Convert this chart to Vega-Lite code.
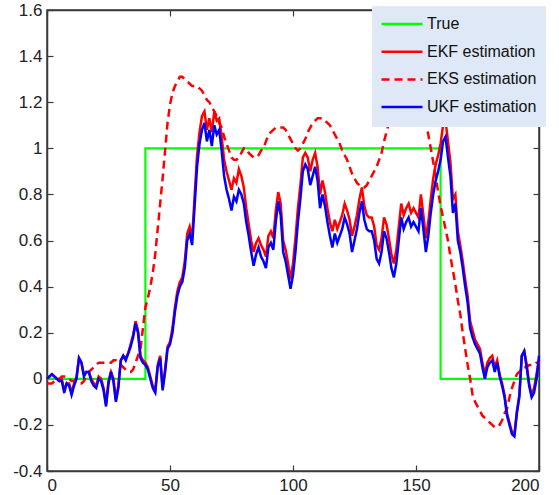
{
"$schema": "https://vega.github.io/schema/vega-lite/v6.json",
"width": 492, "height": 461,
"autosize": {"type": "none"},
"padding": {"left": 47, "top": 10, "right": 20, "bottom": 24},
"background": "white",
"config": {
 "view": {"stroke": "#3a3a3a", "strokeWidth": 1.5},
 "font": "Liberation Sans",
 "axis": {"grid": false, "domainColor": "#3a3a3a", "domainWidth": 1.5, "tickColor": "#3a3a3a", "tickWidth": 1.2, "tickSize": -6, "labelFont": "Liberation Sans", "labelFontSize": 17, "labelColor": "#222", "title": null},
 "legend": {"orient": "none", "legendX": 325, "legendY": -4, "fillColor": "#dee8f6", "strokeColor": "#e6ebf2", "padding": 8, "symbolType": "stroke", "symbolSize": 1681, "clipHeight": 20, "symbolStrokeWidth": 2.5, "labelFont": "Liberation Sans", "labelFontSize": 16, "labelColor": "#111", "labelOffset": 3, "rowPadding": 7.7}
},
"datasets": {
 "truth": [
  {"t": 0, "s": "True", "v": 0},
  {"t": 40, "s": "True", "v": 1},
  {"t": 160, "s": "True", "v": 0},
  {"t": 200, "s": "True", "v": 0}
 ],
 "est": [
{"t":0,"EKF":0.00,"EKS":-0.02,"UKF":0.00},
{"t":1,"EKF":0.01,"EKS":-0.02,"UKF":0.01},
{"t":2,"EKF":0.02,"EKS":-0.02,"UKF":0.02},
{"t":3,"EKF":0.01,"EKS":-0.01,"UKF":0.01},
{"t":4,"EKF":0.00,"EKS":0.00,"UKF":0.00},
{"t":5,"EKF":-0.01,"EKS":0.00,"UKF":-0.01},
{"t":6,"EKF":0.00,"EKS":0.01,"UKF":-0.01},
{"t":7,"EKF":-0.05,"EKS":0.01,"UKF":-0.06},
{"t":8,"EKF":-0.02,"EKS":0.01,"UKF":-0.02},
{"t":9,"EKF":-0.02,"EKS":0.00,"UKF":-0.03},
{"t":10,"EKF":-0.06,"EKS":-0.01,"UKF":-0.07},
{"t":11,"EKF":-0.02,"EKS":-0.01,"UKF":-0.03},
{"t":12,"EKF":0.01,"EKS":-0.02,"UKF":0.00},
{"t":13,"EKF":0.09,"EKS":-0.02,"UKF":0.09},
{"t":14,"EKF":0.07,"EKS":-0.02,"UKF":0.07},
{"t":15,"EKF":0.02,"EKS":-0.01,"UKF":0.01},
{"t":16,"EKF":0.03,"EKS":0.01,"UKF":0.03},
{"t":17,"EKF":0.03,"EKS":0.03,"UKF":0.03},
{"t":18,"EKF":0.00,"EKS":0.04,"UKF":-0.01},
{"t":19,"EKF":-0.02,"EKS":0.05,"UKF":-0.03},
{"t":20,"EKF":-0.03,"EKS":0.06,"UKF":-0.04},
{"t":21,"EKF":0.01,"EKS":0.07,"UKF":0.00},
{"t":22,"EKF":0.00,"EKS":0.07,"UKF":-0.01},
{"t":23,"EKF":-0.04,"EKS":0.07,"UKF":-0.05},
{"t":24,"EKF":-0.11,"EKS":0.07,"UKF":-0.12},
{"t":25,"EKF":-0.01,"EKS":0.07,"UKF":-0.02},
{"t":26,"EKF":0.03,"EKS":0.07,"UKF":0.03},
{"t":27,"EKF":0.00,"EKS":0.08,"UKF":-0.01},
{"t":28,"EKF":-0.09,"EKS":0.08,"UKF":-0.10},
{"t":29,"EKF":-0.03,"EKS":0.07,"UKF":-0.04},
{"t":30,"EKF":0.08,"EKS":0.06,"UKF":0.08},
{"t":31,"EKF":0.10,"EKS":0.05,"UKF":0.10},
{"t":32,"EKF":0.09,"EKS":0.04,"UKF":0.08},
{"t":33,"EKF":0.11,"EKS":0.03,"UKF":0.11},
{"t":34,"EKF":0.15,"EKS":0.03,"UKF":0.14},
{"t":35,"EKF":0.19,"EKS":0.04,"UKF":0.18},
{"t":36,"EKF":0.25,"EKS":0.07,"UKF":0.24},
{"t":37,"EKF":0.21,"EKS":0.10,"UKF":0.20},
{"t":38,"EKF":0.10,"EKS":0.13,"UKF":0.09},
{"t":39,"EKF":0.08,"EKS":0.22,"UKF":0.07},
{"t":40,"EKF":0.07,"EKS":0.31,"UKF":0.06},
{"t":41,"EKF":0.05,"EKS":0.35,"UKF":0.04},
{"t":42,"EKF":0.01,"EKS":0.40,"UKF":0.00},
{"t":43,"EKF":-0.03,"EKS":0.46,"UKF":-0.04},
{"t":44,"EKF":-0.05,"EKS":0.54,"UKF":-0.06},
{"t":45,"EKF":0.06,"EKS":0.65,"UKF":0.05},
{"t":46,"EKF":0.10,"EKS":0.76,"UKF":0.09},
{"t":47,"EKF":-0.04,"EKS":0.87,"UKF":-0.05},
{"t":48,"EKF":0.04,"EKS":0.99,"UKF":0.03},
{"t":49,"EKF":0.14,"EKS":1.11,"UKF":0.13},
{"t":50,"EKF":0.16,"EKS":1.19,"UKF":0.15},
{"t":51,"EKF":0.22,"EKS":1.24,"UKF":0.20},
{"t":52,"EKF":0.31,"EKS":1.27,"UKF":0.29},
{"t":53,"EKF":0.38,"EKS":1.29,"UKF":0.36},
{"t":54,"EKF":0.42,"EKS":1.31,"UKF":0.40},
{"t":55,"EKF":0.44,"EKS":1.31,"UKF":0.42},
{"t":56,"EKF":0.51,"EKS":1.30,"UKF":0.48},
{"t":57,"EKF":0.63,"EKS":1.29,"UKF":0.60},
{"t":58,"EKF":0.66,"EKS":1.28,"UKF":0.63},
{"t":59,"EKF":0.61,"EKS":1.27,"UKF":0.58},
{"t":60,"EKF":0.79,"EKS":1.27,"UKF":0.75},
{"t":61,"EKF":0.97,"EKS":1.27,"UKF":0.92},
{"t":62,"EKF":1.07,"EKS":1.26,"UKF":1.02},
{"t":63,"EKF":1.14,"EKS":1.25,"UKF":1.08},
{"t":64,"EKF":1.16,"EKS":1.23,"UKF":1.11},
{"t":65,"EKF":1.08,"EKS":1.21,"UKF":1.03},
{"t":66,"EKF":1.13,"EKS":1.20,"UKF":1.08},
{"t":67,"EKF":1.07,"EKS":1.18,"UKF":1.01},
{"t":68,"EKF":1.16,"EKS":1.16,"UKF":1.10},
{"t":69,"EKF":1.12,"EKS":1.14,"UKF":1.06},
{"t":70,"EKF":1.13,"EKS":1.11,"UKF":1.08},
{"t":71,"EKF":1.05,"EKS":1.09,"UKF":0.99},
{"t":72,"EKF":0.95,"EKS":1.05,"UKF":0.88},
{"t":73,"EKF":0.90,"EKS":1.02,"UKF":0.82},
{"t":74,"EKF":0.86,"EKS":0.99,"UKF":0.78},
{"t":75,"EKF":0.82,"EKS":0.96,"UKF":0.73},
{"t":76,"EKF":0.87,"EKS":0.95,"UKF":0.79},
{"t":77,"EKF":0.85,"EKS":0.95,"UKF":0.77},
{"t":78,"EKF":0.91,"EKS":0.96,"UKF":0.82},
{"t":79,"EKF":0.88,"EKS":0.98,"UKF":0.80},
{"t":80,"EKF":0.83,"EKS":1.00,"UKF":0.76},
{"t":81,"EKF":0.74,"EKS":1.00,"UKF":0.68},
{"t":82,"EKF":0.67,"EKS":0.98,"UKF":0.62},
{"t":83,"EKF":0.60,"EKS":0.97,"UKF":0.55},
{"t":84,"EKF":0.55,"EKS":0.96,"UKF":0.49},
{"t":85,"EKF":0.59,"EKS":0.96,"UKF":0.54},
{"t":86,"EKF":0.61,"EKS":0.97,"UKF":0.57},
{"t":87,"EKF":0.58,"EKS":0.99,"UKF":0.53},
{"t":88,"EKF":0.56,"EKS":1.00,"UKF":0.51},
{"t":89,"EKF":0.53,"EKS":1.03,"UKF":0.48},
{"t":90,"EKF":0.62,"EKS":1.06,"UKF":0.57},
{"t":91,"EKF":0.64,"EKS":1.07,"UKF":0.59},
{"t":92,"EKF":0.61,"EKS":1.08,"UKF":0.56},
{"t":93,"EKF":0.73,"EKS":1.09,"UKF":0.68},
{"t":94,"EKF":0.81,"EKS":1.09,"UKF":0.77},
{"t":95,"EKF":0.76,"EKS":1.09,"UKF":0.71},
{"t":96,"EKF":0.60,"EKS":1.09,"UKF":0.55},
{"t":97,"EKF":0.56,"EKS":1.08,"UKF":0.51},
{"t":98,"EKF":0.50,"EKS":1.06,"UKF":0.45},
{"t":99,"EKF":0.43,"EKS":1.04,"UKF":0.39},
{"t":100,"EKF":0.50,"EKS":1.02,"UKF":0.45},
{"t":101,"EKF":0.61,"EKS":1.00,"UKF":0.55},
{"t":102,"EKF":0.74,"EKS":0.99,"UKF":0.68},
{"t":103,"EKF":0.84,"EKS":1.00,"UKF":0.78},
{"t":104,"EKF":0.96,"EKS":1.02,"UKF":0.90},
{"t":105,"EKF":0.98,"EKS":1.04,"UKF":0.93},
{"t":106,"EKF":0.96,"EKS":1.07,"UKF":0.91},
{"t":107,"EKF":0.90,"EKS":1.09,"UKF":0.84},
{"t":108,"EKF":0.95,"EKS":1.11,"UKF":0.88},
{"t":109,"EKF":0.98,"EKS":1.12,"UKF":0.92},
{"t":110,"EKF":0.92,"EKS":1.13,"UKF":0.86},
{"t":111,"EKF":0.80,"EKS":1.13,"UKF":0.74},
{"t":112,"EKF":0.86,"EKS":1.13,"UKF":0.80},
{"t":113,"EKF":0.81,"EKS":1.12,"UKF":0.75},
{"t":114,"EKF":0.74,"EKS":1.11,"UKF":0.68},
{"t":115,"EKF":0.68,"EKS":1.10,"UKF":0.62},
{"t":116,"EKF":0.64,"EKS":1.08,"UKF":0.57},
{"t":117,"EKF":0.69,"EKS":1.06,"UKF":0.63},
{"t":118,"EKF":0.65,"EKS":1.04,"UKF":0.59},
{"t":119,"EKF":0.68,"EKS":1.02,"UKF":0.62},
{"t":120,"EKF":0.71,"EKS":0.99,"UKF":0.65},
{"t":121,"EKF":0.76,"EKS":0.97,"UKF":0.70},
{"t":122,"EKF":0.73,"EKS":0.95,"UKF":0.67},
{"t":123,"EKF":0.69,"EKS":0.92,"UKF":0.63},
{"t":124,"EKF":0.62,"EKS":0.89,"UKF":0.55},
{"t":125,"EKF":0.66,"EKS":0.87,"UKF":0.60},
{"t":126,"EKF":0.71,"EKS":0.85,"UKF":0.65},
{"t":127,"EKF":0.78,"EKS":0.84,"UKF":0.72},
{"t":128,"EKF":0.83,"EKS":0.83,"UKF":0.77},
{"t":129,"EKF":0.75,"EKS":0.83,"UKF":0.69},
{"t":130,"EKF":0.71,"EKS":0.84,"UKF":0.65},
{"t":131,"EKF":0.70,"EKS":0.86,"UKF":0.64},
{"t":132,"EKF":0.70,"EKS":0.88,"UKF":0.64},
{"t":133,"EKF":0.66,"EKS":0.90,"UKF":0.60},
{"t":134,"EKF":0.58,"EKS":0.92,"UKF":0.52},
{"t":135,"EKF":0.56,"EKS":0.95,"UKF":0.50},
{"t":136,"EKF":0.61,"EKS":0.98,"UKF":0.55},
{"t":137,"EKF":0.70,"EKS":1.03,"UKF":0.64},
{"t":138,"EKF":0.67,"EKS":1.07,"UKF":0.61},
{"t":139,"EKF":0.61,"EKS":1.11,"UKF":0.55},
{"t":140,"EKF":0.54,"EKS":1.15,"UKF":0.48},
{"t":141,"EKF":0.50,"EKS":1.19,"UKF":0.44},
{"t":142,"EKF":0.56,"EKS":1.22,"UKF":0.50},
{"t":143,"EKF":0.66,"EKS":1.25,"UKF":0.60},
{"t":144,"EKF":0.76,"EKS":1.27,"UKF":0.70},
{"t":145,"EKF":0.71,"EKS":1.28,"UKF":0.65},
{"t":146,"EKF":0.74,"EKS":1.28,"UKF":0.68},
{"t":147,"EKF":0.76,"EKS":1.27,"UKF":0.70},
{"t":148,"EKF":0.72,"EKS":1.26,"UKF":0.66},
{"t":149,"EKF":0.74,"EKS":1.25,"UKF":0.68},
{"t":150,"EKF":0.72,"EKS":1.23,"UKF":0.66},
{"t":151,"EKF":0.70,"EKS":1.21,"UKF":0.64},
{"t":152,"EKF":0.80,"EKS":1.18,"UKF":0.74},
{"t":153,"EKF":0.71,"EKS":1.14,"UKF":0.65},
{"t":154,"EKF":0.61,"EKS":1.11,"UKF":0.55},
{"t":155,"EKF":0.68,"EKS":1.06,"UKF":0.62},
{"t":156,"EKF":0.78,"EKS":1.00,"UKF":0.72},
{"t":157,"EKF":0.87,"EKS":0.94,"UKF":0.80},
{"t":158,"EKF":0.93,"EKS":0.88,"UKF":0.86},
{"t":159,"EKF":0.97,"EKS":0.81,"UKF":0.90},
{"t":160,"EKF":1.02,"EKS":0.75,"UKF":0.95},
{"t":161,"EKF":1.10,"EKS":0.70,"UKF":1.03},
{"t":162,"EKF":1.12,"EKS":0.65,"UKF":1.05},
{"t":163,"EKF":1.03,"EKS":0.60,"UKF":0.96},
{"t":164,"EKF":0.94,"EKS":0.53,"UKF":0.88},
{"t":165,"EKF":0.78,"EKS":0.47,"UKF":0.72},
{"t":166,"EKF":0.80,"EKS":0.41,"UKF":0.76},
{"t":167,"EKF":0.64,"EKS":0.34,"UKF":0.60},
{"t":168,"EKF":0.58,"EKS":0.28,"UKF":0.55},
{"t":169,"EKF":0.51,"EKS":0.20,"UKF":0.48},
{"t":170,"EKF":0.43,"EKS":0.13,"UKF":0.40},
{"t":171,"EKF":0.36,"EKS":0.06,"UKF":0.33},
{"t":172,"EKF":0.25,"EKS":0.00,"UKF":0.22},
{"t":173,"EKF":0.21,"EKS":-0.07,"UKF":0.18},
{"t":174,"EKF":0.17,"EKS":-0.10,"UKF":0.15},
{"t":175,"EKF":0.15,"EKS":-0.12,"UKF":0.13},
{"t":176,"EKF":0.13,"EKS":-0.14,"UKF":0.11},
{"t":177,"EKF":0.07,"EKS":-0.16,"UKF":0.05},
{"t":178,"EKF":0.02,"EKS":-0.17,"UKF":0.00},
{"t":179,"EKF":0.07,"EKS":-0.18,"UKF":0.05},
{"t":180,"EKF":0.09,"EKS":-0.19,"UKF":0.07},
{"t":181,"EKF":0.10,"EKS":-0.20,"UKF":0.08},
{"t":182,"EKF":0.05,"EKS":-0.21,"UKF":0.03},
{"t":183,"EKF":0.08,"EKS":-0.21,"UKF":0.07},
{"t":184,"EKF":0.02,"EKS":-0.20,"UKF":0.01},
{"t":185,"EKF":-0.02,"EKS":-0.18,"UKF":-0.03},
{"t":186,"EKF":-0.07,"EKS":-0.15,"UKF":-0.08},
{"t":187,"EKF":-0.15,"EKS":-0.13,"UKF":-0.16},
{"t":188,"EKF":-0.19,"EKS":-0.08,"UKF":-0.20},
{"t":189,"EKF":-0.23,"EKS":-0.04,"UKF":-0.24},
{"t":190,"EKF":-0.24,"EKS":-0.01,"UKF":-0.25},
{"t":191,"EKF":-0.14,"EKS":0.02,"UKF":-0.15},
{"t":192,"EKF":-0.07,"EKS":0.03,"UKF":-0.08},
{"t":193,"EKF":0.10,"EKS":0.04,"UKF":0.10},
{"t":194,"EKF":0.12,"EKS":0.05,"UKF":0.12},
{"t":195,"EKF":0.06,"EKS":0.05,"UKF":0.05},
{"t":196,"EKF":-0.02,"EKS":0.06,"UKF":-0.03},
{"t":197,"EKF":-0.07,"EKS":0.06,"UKF":-0.08},
{"t":198,"EKF":-0.04,"EKS":0.06,"UKF":-0.06},
{"t":199,"EKF":0.02,"EKS":0.07,"UKF":0.00},
{"t":200,"EKF":0.08,"EKS":0.07,"UKF":0.10}
 ]
},
"layer": [
 {
  "data": {"name": "truth"},
  "mark": {"type": "line", "interpolate": "step-after", "strokeWidth": 2.2},
  "encoding": {
   "x": {"field": "t", "type": "quantitative", "scale": {"domain": [0, 200], "nice": false, "zero": false},
         "axis": {"orient": "bottom", "values": [0, 50, 100, 150, 200], "labelPadding": 12}},
   "y": {"field": "v", "type": "quantitative", "scale": {"domain": [-0.4, 1.6], "nice": false, "zero": false},
         "axis": {"orient": "left", "values": [-0.4, -0.2, 0, 0.2, 0.4, 0.6, 0.8, 1, 1.2, 1.4, 1.6], "labelPadding": 11, "labelExpr": "replace(format(datum.value, '~f'), '\u2212', '-')"}},
   "color": {"field": "s", "type": "nominal", "scale": {"domain": ["True", "EKF", "EKS", "UKF"], "range": ["#00ff00", "#ff0000", "#ff0000", "#0000ff"]},
             "legend": {"title": null, "labelExpr": "datum.label == 'True' ? 'True' : datum.label + ' estimation'"}},
   "strokeDash": {"field": "s", "type": "nominal", "scale": {"domain": ["True", "EKF", "EKS", "UKF"], "range": [[1, 0], [1, 0], [8, 5], [1, 0]]},
             "legend": {"title": null, "labelExpr": "datum.label == 'True' ? 'True' : datum.label + ' estimation'"}}
  }
 },
 {
  "data": {"name": "est"},
  "transform": [{"fold": ["EKF", "EKS", "UKF"], "as": ["s", "v"]}],
  "mark": {"type": "line", "strokeWidth": 2.5},
  "encoding": {
   "x": {"field": "t", "type": "quantitative", "scale": {"domain": [0, 200], "nice": false, "zero": false},
         "axis": {"orient": "top", "values": [0, 50, 100, 150, 200], "labels": false}},
   "y": {"field": "v", "type": "quantitative", "scale": {"domain": [-0.4, 1.6], "nice": false, "zero": false},
         "axis": {"orient": "right", "values": [-0.4, -0.2, 0, 0.2, 0.4, 0.6, 0.8, 1, 1.2, 1.4, 1.6], "labels": false}},
   "color": {"field": "s", "type": "nominal", "scale": {"domain": ["True", "EKF", "EKS", "UKF"], "range": ["#00ff00", "#ff0000", "#ff0000", "#0000ff"]},
             "legend": {"title": null, "labelExpr": "datum.label == 'True' ? 'True' : datum.label + ' estimation'"}},
   "strokeDash": {"field": "s", "type": "nominal", "scale": {"domain": ["True", "EKF", "EKS", "UKF"], "range": [[1, 0], [1, 0], [8, 5], [1, 0]]},
             "legend": {"title": null, "labelExpr": "datum.label == 'True' ? 'True' : datum.label + ' estimation'"}}
  }
 }
],
"resolve": {"axis": {"x": "independent", "y": "independent"}}
}
